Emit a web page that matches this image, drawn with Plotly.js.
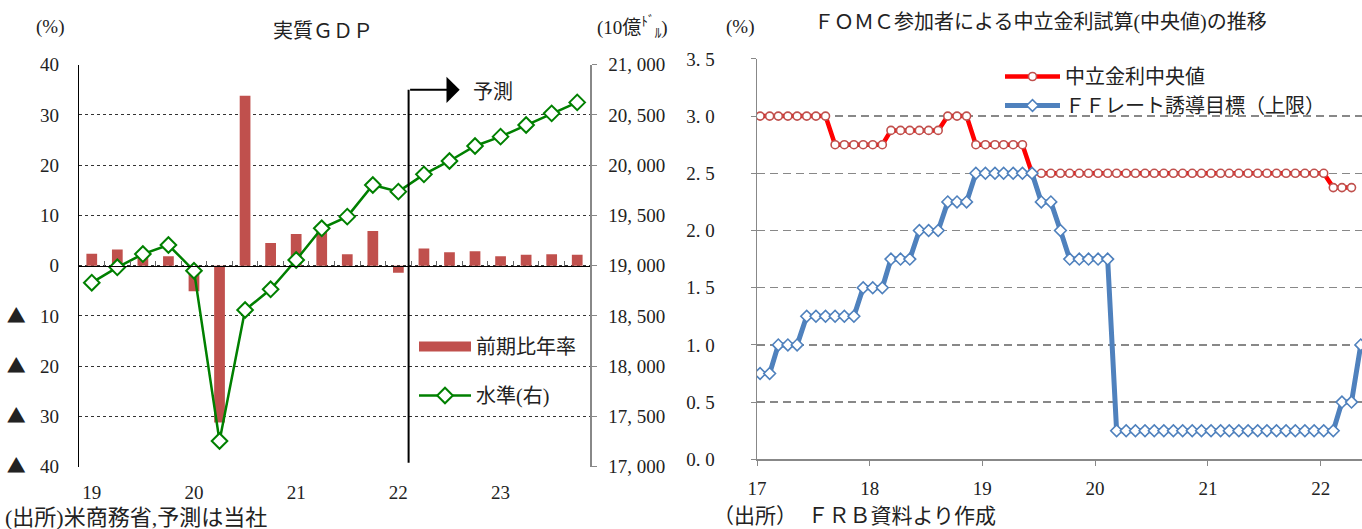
<!DOCTYPE html>
<html><head><meta charset="utf-8">
<script src="https://cdn.plot.ly/plotly-3.0.1.min.js"></script>
<style>html,body{margin:0;padding:0;background:#fff}#chart{width:1362px;height:529px}</style>
</head><body><div id="chart"></div>
<script>
// ---------- Left chart: real GDP ----------
const quarters = ['19Q1','19Q2','19Q3','19Q4','20Q1','20Q2','20Q3','20Q4','21Q1','21Q2','21Q3','21Q4','22Q1','22Q2','22Q3','22Q4','23Q1','23Q2','23Q3','23Q4'];
const growthRate = [2.4,3.2,2.6,1.9,-5.1,-31.2,33.8,4.5,6.3,6.7,2.3,6.9,-1.4,3.4,2.7,2.9,1.9,2.2,2.3,2.2];
const gdpLevel = [18831,18984,19116,19206,18950,17256,18559,18765,19057,19372,19488,19803,19737,19909,20042,20191,20284,20400,20516,20625];
const yearTickCats = ['19Q1','20Q1','21Q1','22Q1','23Q1'];
const yearTickText = ['19','20','21','22','23'];
const pctTickVals = [40,30,20,10,0,-10,-20,-30,-40];
const TRI = '<span style="font-family:Noto Sans CJK JP;font-size:19px">▲</span>\u00a0\u00a0\u00a0';
const pctTickText = ['40','30','20','10','0',TRI+'10',TRI+'20',TRI+'30',TRI+'40'];
const levelTickVals = [17000,17500,18000,18500,19000,19500,20000,20500,21000];
const levelTickText = ['17, 000','17, 500','18, 000','18, 500','19, 000','19, 500','20, 000','20, 500','21, 000'];
const forecastStart = 12.4;   // category position of forecast divider

// ---------- Right chart: FOMC neutral rate ----------
const startYear = 2017, startMonth = 1, nMonths = 65;
const months = [];
for (let i = 0; i < nMonths; i++) {
  const y = startYear + Math.floor((startMonth - 1 + i) / 12);
  const m = ((startMonth - 1 + i) % 12) + 1;
  months.push(y + '-' + String(m).padStart(2, '0') + '-11');
}
const neutralMedian = [
  3.0,3.0,3.0,3.0,3.0,3.0,3.0,3.0,
  2.75,2.75,2.75,2.75,2.75,2.75,
  2.875,2.875,2.875,2.875,2.875,2.875,
  3.0,3.0,3.0,
  2.75,2.75,2.75,2.75,2.75,2.75,
  2.5,2.5,2.5,2.5,2.5,2.5,2.5,2.5,2.5,2.5,2.5,2.5,2.5,2.5,2.5,2.5,2.5,2.5,2.5,2.5,2.5,2.5,2.5,2.5,2.5,2.5,2.5,2.5,2.5,2.5,2.5,2.5,
  2.375,2.375,2.375
];
const ffUpper = [
  0.75,0.75,
  1.0,1.0,1.0,
  1.25,1.25,1.25,1.25,1.25,1.25,
  1.5,1.5,1.5,
  1.75,1.75,1.75,
  2.0,2.0,2.0,
  2.25,2.25,2.25,
  2.5,2.5,2.5,2.5,2.5,2.5,2.5,
  2.25,2.25,
  2.0,
  1.75,1.75,1.75,1.75,1.75,
  0.25,0.25,0.25,0.25,0.25,0.25,0.25,0.25,0.25,0.25,0.25,0.25,0.25,0.25,0.25,0.25,0.25,0.25,0.25,0.25,0.25,0.25,0.25,0.25,
  0.5,0.5,
  1.0
];
const rateTickVals = [0,0.5,1.0,1.5,2.0,2.5,3.0,3.5];
const rateTickText = ['0. 0','0. 5','1. 0','1. 5','2. 0','2. 5','3. 0','3. 5'];

const FONT = 'Liberation Serif, DejaVu Serif, Noto Sans CJK JP, serif';
const TXT = '#222';
const W = 1362, H = 529;
const px = v => v / W, py = v => 1 - v / H;

const traces = [
  {type:'bar', x: quarters, y: growthRate, xaxis:'x', yaxis:'y', marker:{color:'#C0504D'},
   name:'前期比年率', showlegend:false, hoverinfo:'x+y'},
  // legend key for the bar series (wide bar key like the original); no drawn points
  {type:'scatter', mode:'lines', x: [quarters[0]], y: [null], xaxis:'x', yaxis:'y', name:'前期比年率',
   line:{color:'#C0504D', width:11}, legend:'legend', legendgroup:'a', showlegend:true, hoverinfo:'skip'},
  {type:'scatter', mode:'lines+markers', x: quarters, y: gdpLevel, xaxis:'x3', yaxis:'y2',
   name:'水準(右)', line:{color:'#008000', width:2.5},
   marker:{symbol:'diamond', size:12, color:'#fff', line:{color:'#008000', width:2}},
   legend:'legend', legendgroup:'b', cliponaxis:false},
  {type:'scatter', mode:'lines+markers', x: months, y: neutralMedian, xaxis:'x2', yaxis:'y3',
   name:'中立金利中央値', line:{color:'#FF0000', width:4.5},
   marker:{symbol:'circle', size:8, color:'#fff', line:{color:'#C0504D', width:1.6}},
   legend:'legend2'},
  {type:'scatter', mode:'lines+markers', x: months, y: ffUpper, xaxis:'x2', yaxis:'y3',
   name:'ＦＦレート誘導目標（上限）', line:{color:'#4F81BD', width:5},
   marker:{symbol:'diamond', size:9, color:'#fff', line:{color:'#4F81BD', width:1.6}},
   legend:'legend2'}
];

const yDomL = [py(466.7), py(64.7)];
const layout = {
  width: W, height: H, margin:{l:0,r:0,t:0,b:0},
  paper_bgcolor:'#fff', plot_bgcolor:'rgba(0,0,0,0)',
  font:{family: FONT, color: TXT, size: 17},
  bargap: 0.58,
  xaxis: {domain:[px(79), px(590)], type:'category', categoryarray: quarters, range:[-0.5,19.5],
    anchor:'free', position:(yDomL[0]+yDomL[1])/2, tickson:'boundaries', ticks:'inside', ticklen:5,
    tickcolor:'#666', showticklabels:false, showline:true, linecolor:'#000', linewidth:1.3,
    showgrid:false, zeroline:false, fixedrange:true},
  xaxis3: {overlaying:'x', anchor:'y', type:'category', categoryarray: quarters, range:[-0.5,19.5],
    tickvals: yearTickCats, ticktext: yearTickText, ticks:'', showline:false, showgrid:false,
    zeroline:false, ticklabelstandoff:12, tickfont:{size:19, family:FONT, color:TXT}},
  yaxis: {domain: yDomL, anchor:'x', range:[-40,40], tickvals: pctTickVals, ticktext: pctTickText,
    showgrid:true, gridcolor:'#333', griddash:'dot', gridwidth:1, zeroline:false,
    showline:true, linecolor:'#000', linewidth:1.3, ticks:'', ticklabelstandoff:15,
    tickfont:{size:19, family:FONT, color:TXT}},
  yaxis2: {overlaying:'y', anchor:'x3', side:'right', range:[17000,21000],
    tickvals: levelTickVals, ticktext: levelTickText, showgrid:false, zeroline:false,
    showline:true, linecolor:'#888', linewidth:1.5, ticks:'outside', ticklen:5, tickcolor:'#888',
    ticklabelstandoff:8, tickfont:{size:19, family:FONT, color:TXT}},
  xaxis2: {domain:[px(757), 1], anchor:'y3', type:'date', range:['2017-01-01','2022-05-15'],
    tick0:'2017-01-01', dtick:'M12', tickformat:'%y', ticks:'outside', ticklen:5, tickcolor:'#888',
    showline:true, linecolor:'#888', linewidth:1.5, showgrid:false, zeroline:false,
    ticklabelstandoff:6, tickfont:{size:19, family:FONT, color:TXT}},
  yaxis3: {domain:[py(459.3), py(58.9)], anchor:'x2', range:[0,3.5], tickvals: rateTickVals,
    ticktext: rateTickText, showgrid:true, gridcolor:'#888', griddash:'8px,5px', gridwidth:1.5,
    zeroline:false, showline:true, linecolor:'#888', linewidth:1.5, ticks:'outside', ticklen:5,
    tickcolor:'#888', ticklabelstandoff:32, tickfont:{size:19, family:FONT, color:TXT}},
  legend: {x: px(414), y: py(327), xanchor:'left', yanchor:'top', bgcolor:'rgba(0,0,0,0)',
    font:{size:20, family:FONT, color:TXT}, itemwidth:52, tracegroupgap:20, traceorder:'grouped'},
  legend2: {x: px(1000), y: py(57), xanchor:'left', yanchor:'top', bgcolor:'rgba(0,0,0,0)',
    font:{size:20, family:FONT, color:TXT}, itemwidth:55, tracegroupgap:2},
  shapes: [
    {type:'line', xref:'x', yref:'y', x0: forecastStart, x1: forecastStart, y0:-39.2, y1:35,
     line:{color:'#000', width:2}}
  ],
  annotations: [
    {xref:'x', yref:'y', axref:'x', ayref:'y', x: forecastStart + 2.0, y:35, ax: forecastStart, ay:35,
     text:'', showarrow:true, arrowhead:1, arrowsize:2.2, arrowwidth:2, arrowcolor:'#000', standoff:0},
    {xref:'paper', yref:'paper', x: px(471), y: py(92), xanchor:'left', yanchor:'middle',
     text:'予測', showarrow:false, font:{size:20, family:FONT, color:TXT}},
    {xref:'paper', yref:'paper', x: px(323), y: py(31), xanchor:'center', yanchor:'middle',
     text:'実質ＧＤＰ', showarrow:false, font:{size:20, family:FONT, color:TXT}},
    {xref:'paper', yref:'paper', x: px(50), y: py(27), xanchor:'center', yanchor:'middle',
     text:'(%)', showarrow:false, font:{size:19, family:FONT, color:TXT}},
    {xref:'paper', yref:'paper', x: px(632), y: py(27), xanchor:'center', yanchor:'middle',
     text:'(10億<sup>ﾄﾞ</sup><sub>ﾙ</sub>)', showarrow:false, font:{size:19, family:FONT, color:TXT}},
    {xref:'paper', yref:'paper', x: px(3), y: py(517), xanchor:'left', yanchor:'middle',
     text:'(出所)米商務省,予測は当社', showarrow:false, font:{size:22, family:FONT, color:TXT}},
    {xref:'paper', yref:'paper', x: px(1040), y: py(23), xanchor:'center', yanchor:'middle',
     text:'ＦＯＭＣ参加者による中立金利試算(中央値)の推移', showarrow:false, font:{size:20, family:FONT, color:TXT}},
    {xref:'paper', yref:'paper', x: px(740), y: py(27), xanchor:'center', yanchor:'middle',
     text:'(%)', showarrow:false, font:{size:19, family:FONT, color:TXT}},
    {xref:'paper', yref:'paper', x: px(711), y: py(516), xanchor:'left', yanchor:'middle',
     text:'（出所）　ＦＲＢ資料より作成', showarrow:false, font:{size:21, family:FONT, color:TXT}}
  ]
};

Plotly.newPlot('chart', traces, layout, {staticPlot:true, displayModeBar:false});
</script>
</body></html>
